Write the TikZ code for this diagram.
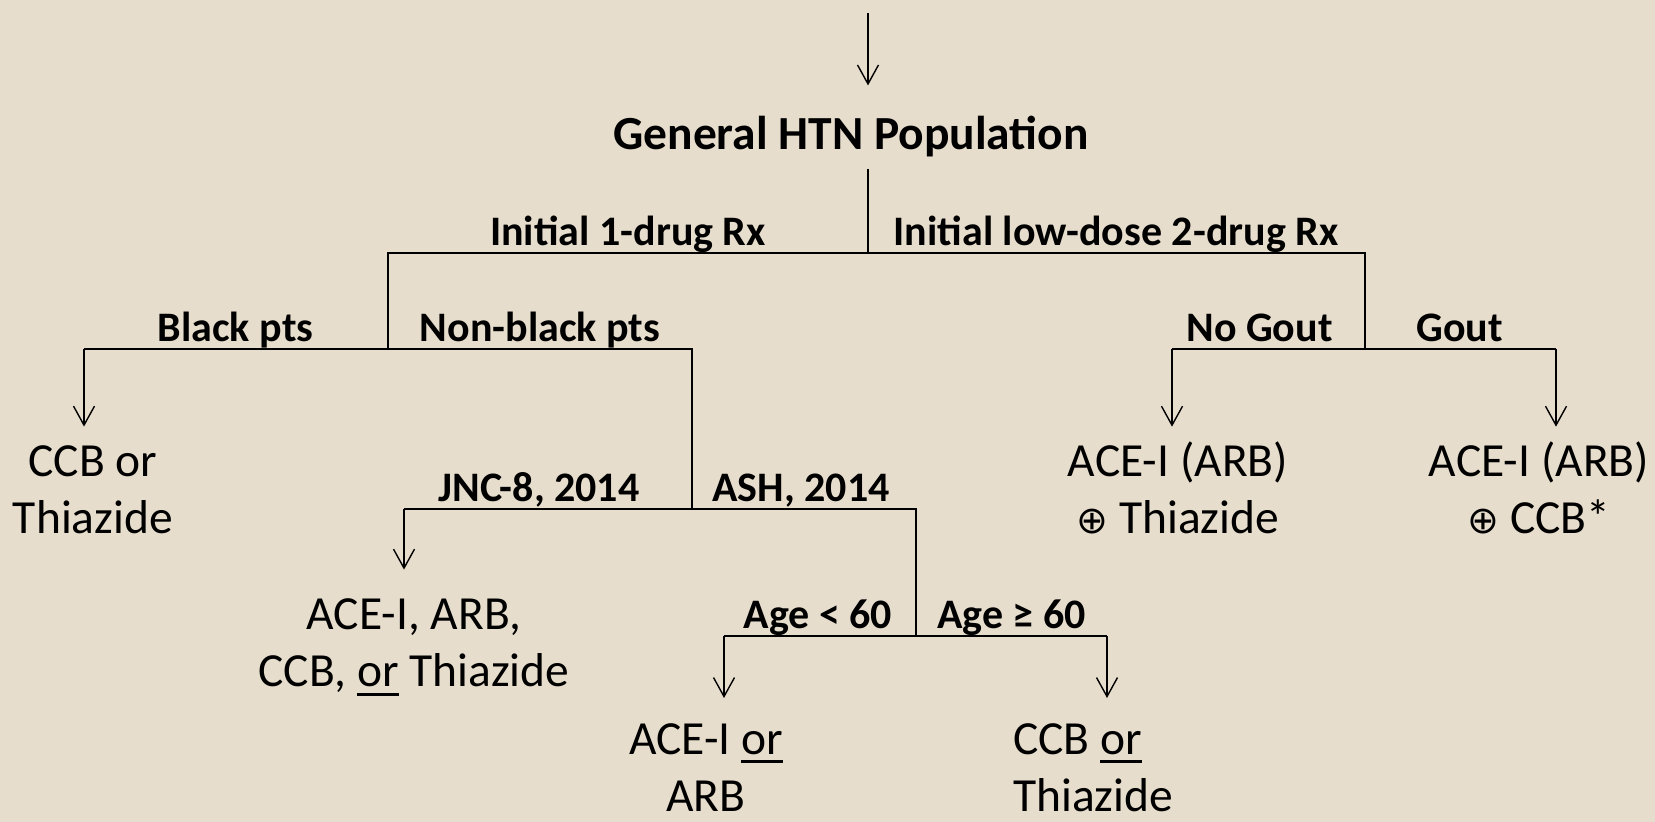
\documentclass[tikz,border=0pt]{standalone}
\usepackage{fontspec}
\setmainfont{Carlito}
\newfontfamily\symbfont[Scale=0.8]{DejaVu Sans}
\usetikzlibrary{arrows.meta}
\definecolor{papier}{RGB}{231,221,204}
\newcommand{\strich}[1]{\setbox0\hbox{#1}\rlap{\rule[-9pt]{\wd0}{2.8pt}}\box0\relax}

\begin{document}
\begin{tikzpicture}[x=1pt,y=-1pt,
    lbl/.style={font=\fontsize{42}{50}\selectfont\bfseries,inner sep=0pt,anchor=base},
    leaf/.style={font=\fontsize{47.5}{57}\selectfont,align=center,inner sep=0pt,anchor=base},
    bar/.style={line width=2.8pt},
    arr/.style={line width=1.4pt,-{Straight Barb[length=19pt,width=21pt]}}]
    \fill[papier] (0,0) rectangle (1655,822);
    \useasboundingbox (0,0) rectangle (1655,822);
  %Knoten
    \coordinate (top) at (868,13);
    \node[leaf,font=\fontsize{47.5}{57}\selectfont\bfseries] (pop) at (851,149) {General HTN Population};
    \foreach \nm/\x/\y/\txt in {one/628/245/Initial 1-drug Rx,two/1116/245/Initial low-dose 2-drug Rx,
        black/235.5/341/Black pts,nonblack/540/341/Non-black pts,nogout/1259.5/341/No Gout,gout/1459.5/341/Gout,
        jnc/539/501/{JNC-8, 2014},ash/801/501/{ASH, 2014},young/818/628/{Age < 60},old/1011.5/628/{Age ≥ 60}}
      \node[lbl] (\nm) at (\x,\y) {\txt};
  %base = letzte Zeile
    \node[leaf] (ccb) at (93,533.6) {CCB or\\Thiazide};
    \node[leaf] (duo) at (1178,533.6) {ACE-I (ARB)\\{\symbfont ⊕} Thiazide};
    \node[leaf] (duogout) at (1539,533.6) {ACE-I (ARB)\\{\symbfont ⊕} CCB*};
    \node[leaf] (jncrx) at (414,686.6) {ACE-I, ARB,\\CCB, \strich{or} Thiazide};
    \node[leaf] (younrx) at (706,811) {ACE-I \strich{or}\\ARB};
    \node[leaf,anchor=base west,align=left] (oldrx) at (1013,811) {CCB \strich{or}\\Thiazide};
  %Verzweigungen
    \foreach \c/\x/\y in {j1/868/253,j1l/388/253,j1r/1365/253,j2l/84/349,j2m/388/349,j2r/692/349,
        j2rl/1172/349,j2rm/1365/349,j2rr/1556/349,j3l/404/509,j3r/916/509,j3m/692/509,
        j4l/724/636,j4r/1107/636,j4m/916/636}
      \coordinate (\c) at (\x,\y);
    \draw[arr,shorten >=30pt] (top) -- (top |- pop.north);
    \draw[bar,shorten <=12pt] (pop.south -| j1) -- (j1);
    \draw[bar] (j2m) -- (j1l) -- (j1r) -- (j2rm);
    \draw[bar] (j2l) -- (j2r) -- (j3m);
    \draw[bar] (j2rl) -- (j2rr);
    \draw[bar] (j3l) -- (j3r) -- (j4m);
    \draw[bar] (j4l) -- (j4r);
  %Pfeile
    \foreach \j/\n/\s in {j2l/ccb/19,j2rl/duo/15,j2rr/duogout/15,j3l/jncrx/29,j4l/younrx/25,j4r/oldrx/25}
      \draw[arr,shorten >=\s pt] (\j) -- (\j |- \n.north);
\end{tikzpicture}
\end{document}
